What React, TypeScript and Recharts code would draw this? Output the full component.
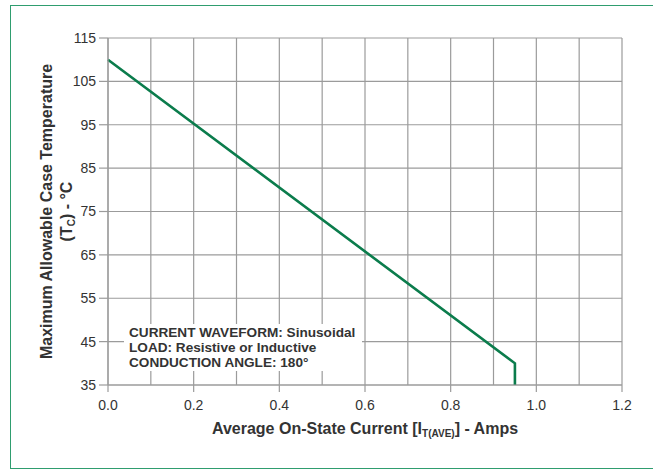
import { CartesianGrid, Label, Line, LineChart, XAxis, YAxis } from 'recharts'

// curve
const current = [0, 0.95, 0.95]
const temperature = [110, 40, 35]

const xTicks = [0, 0.2, 0.4, 0.6, 0.8, 1.0, 1.2]
const xGridLines = [0, 0.1, 0.2, 0.3, 0.4, 0.5, 0.6, 0.7, 0.8, 0.9, 1.0, 1.1, 1.2]
const yTicks = [35, 45, 55, 65, 75, 85, 95, 105, 115]

const notes = ['CURRENT WAVEFORM: Sinusoidal', 'LOAD: Resistive or Inductive', 'CONDUCTION ANGLE: 180°']

const data = current.map((x, i) => ({ x, t: temperature[i] }))

const tickFont = { fill: '#333', fontSize: 14, fontFamily: '"Liberation Sans Narrow", "Liberation Sans", Arial, sans-serif' }
const titleFont = '"Liberation Sans", Arial, sans-serif'
const gridColor = '#9b9b9b'

function YTitle(props: any) {
  const { x, y, height } = props.viewBox
  const cy = y + height / 2
  const x1 = x - 32
  const x2 = x - 12
  return (
    <g fontFamily={titleFont} fontWeight="bold" fontSize={16} fill="#333">
      <text x={x1} y={cy} textAnchor="middle" dominantBaseline="central" transform={`rotate(-90 ${x1} ${cy})`}>
        Maximum Allowable Case Temperature
      </text>
      <text x={x2} y={cy} textAnchor="middle" dominantBaseline="central" transform={`rotate(-90 ${x2} ${cy})`}>
        (T<tspan fontSize={10} baselineShift="sub">C</tspan>) - °C
      </text>
    </g>
  )
}

function XTitle(props: any) {
  const { x, y, width } = props.viewBox
  return (
    <text
      x={x + width / 2}
      y={y + 43}
      textAnchor="middle"
      dominantBaseline="central"
      fontFamily={titleFont}
      fontWeight="bold"
      fontSize={16}
      fill="#333"
    >
      Average On-State Current [I<tspan fontSize={10} baselineShift="sub">T(AVE)</tspan>] - Amps
    </text>
  )
}

export default function App() {
  return (
    <div style={{ position: 'absolute', left: 0, top: 0, width: 653, height: 470, background: '#fff', overflow: 'hidden' }}>
      <div
        style={{
          position: 'absolute',
          left: 10,
          top: 5,
          width: 680,
          height: 462,
          border: '1.5px solid #2f9d6f',
        }}
      />
      <div style={{ position: 'absolute', left: 0, top: 0 }}>
        <LineChart width={653} height={470} data={data} margin={{ top: 38, right: 31, bottom: 55, left: 78 }}>
          <CartesianGrid stroke={gridColor} strokeWidth={1.2} verticalValues={xGridLines} horizontalValues={yTicks} />
          <XAxis
            type="number"
            dataKey="x"
            domain={[0, 1.2]}
            ticks={xTicks}
            tickFormatter={(v: number) => v.toFixed(1)}
            tick={tickFont}
            tickSize={7}
            tickMargin={8}
            height={30}
            stroke={gridColor}
            strokeWidth={1.2}
          >
            <Label content={<XTitle />} />
          </XAxis>
          <YAxis
            type="number"
            domain={[35, 115]}
            ticks={yTicks}
            tick={tickFont}
            tickSize={9}
            tickMargin={3}
            width={30}
            stroke={gridColor}
            strokeWidth={1.2}
          >
            <Label content={<YTitle />} />
          </YAxis>
          <Line
            type="linear"
            dataKey="t"
            stroke="#0b7c4c"
            strokeWidth={2.6}
            dot={false}
            isAnimationActive={false}
          />
        </LineChart>
      </div>
      <div
        style={{
          position: 'absolute',
          left: 124,
          top: 324,
          width: 238,
          height: 47,
          background: '#fff',
          boxSizing: 'border-box',
          paddingLeft: 5,
          paddingTop: 1,
          fontFamily: titleFont,
          fontWeight: 'bold',
          fontSize: 13.6,
          lineHeight: '15px',
          color: '#333',
        }}
      >
        {notes.map((n) => (
          <div key={n}>{n}</div>
        ))}
      </div>
    </div>
  )
}
